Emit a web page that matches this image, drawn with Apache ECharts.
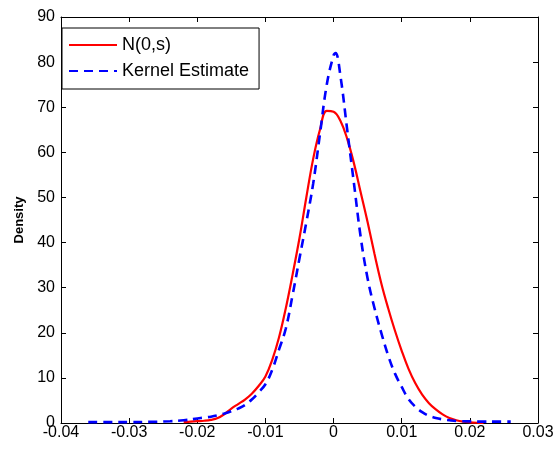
<!DOCTYPE html>
<html>
<head>
<meta charset="utf-8">
<script src="https://cdn.jsdelivr.net/npm/echarts@6/dist/echarts.min.js"></script>
<style>
html,body{margin:0;padding:0;background:#fff;}
#c{width:557px;height:452px;}
</style>
</head>
<body>
<div id="c"></div>
<script>
// Tick labels
const xTicks = [-0.04, -0.03, -0.02, -0.01, 0, 0.01, 0.02, 0.03];
const yTicks = [0, 10, 20, 30, 40, 50, 60, 70, 80, 90];

// N(0,s) curve (red)
const normX = [-0.022,-0.021,-0.020,-0.019,-0.018,-0.017,-0.016,-0.015,-0.014,-0.013,-0.012,-0.011,-0.010,-0.009,-0.008,-0.007,-0.006,-0.005,-0.004,-0.003,-0.002,-0.001,0.000,0.001,0.002,0.003,0.004,0.005,0.006,0.007,0.008,0.009,0.010,0.011,0.012,0.013,0.014,0.015,0.016,0.017,0.018,0.019,0.020,0.021,0.022];
const normY = [0.2,0.3,0.4,0.5,0.7,1.1,2.0,3.2,4.2,5.2,6.5,8.2,10.3,14,19,25.5,33,41,50,58.5,65,69.2,69,67,63,57.5,51,44.5,37.5,31,25.5,20.5,16,12,8.8,6.3,4.4,3.0,1.9,1.1,0.6,0.3,0.15,0.05,0];

// Kernel estimate (blue dashed)
const kdeX = [-0.036,-0.033,-0.030,-0.027,-0.024,-0.022,-0.020,-0.019,-0.018,-0.017,-0.016,-0.015,-0.014,-0.013,-0.012,-0.011,-0.010,-0.009,-0.008,-0.007,-0.006,-0.005,-0.004,-0.003,-0.002,-0.001,0.000,0.0003,0.001,0.002,0.003,0.004,0.005,0.006,0.007,0.008,0.009,0.010,0.011,0.012,0.013,0.014,0.015,0.016,0.017,0.018,0.020,0.022,0.024,0.026];
const kdeY = [0.2,0.2,0.2,0.25,0.4,0.6,1.0,1.2,1.4,1.7,2.1,2.6,3.2,4.0,5.2,6.8,8.6,11.8,16.3,21,28.5,36.5,44.5,53,64,75,81.5,82,77,65,53,41,32,25.5,20,15,11,8,5.3,3.6,2.4,1.6,1.1,0.8,0.6,0.45,0.35,0.3,0.3,0.3];

const normData = normX.map((x, i) => [x, normY[i]]);
const kdeData = kdeX.map((x, i) => [x, kdeY[i]]);

const fmt = v => {
  const r = Math.round(v * 100) / 100;
  return r === 0 ? '0' : String(r);
};
const font = 'Liberation Sans, Arial, sans-serif';
const axisLine = {show: true, onZero: false, lineStyle: {color: '#000', width: 1}};
const tick = {show: true, inside: true, length: 5, lineStyle: {color: '#000'}};

const chart = echarts.init(document.getElementById('c'), null, {renderer: 'canvas'});
chart.setOption({
  animation: false,
  backgroundColor: '#fff',
  grid: {left: 61, right: 19, top: 17, bottom: 29, containLabel: false},
  legend: {
    show: true,
    orient: 'vertical',
    left: 62,
    top: 28,
    backgroundColor: '#fff',
    borderColor: '#000',
    borderWidth: 1,
    borderRadius: 0,
    padding: [7, 10, 8, 6],
    itemGap: 6,
    itemWidth: 48,
    itemHeight: 14,
    itemStyle: {opacity: 0},
    textStyle: {fontFamily: font, fontSize: 18, color: '#000', lineHeight: 20},
    data: ['N(0,s)', 'Kernel Estimate']
  },
  xAxis: [{
    type: 'value', min: -0.04, max: 0.03, interval: 0.01,
    axisLine: axisLine, axisTick: tick,
    axisLabel: {formatter: fmt, fontFamily: font, fontSize: 16, color: '#000', margin: 2},
    splitLine: {show: false}
  }, {
    type: 'value', position: 'top', min: -0.04, max: 0.03, interval: 0.01,
    axisLine: axisLine, axisTick: tick,
    axisLabel: {show: false},
    splitLine: {show: false}
  }],
  yAxis: [{
    type: 'value', position: 'left', min: 0, max: 90, interval: 10,
    name: 'Density', nameLocation: 'middle', nameGap: 34,
    nameTextStyle: {fontFamily: font, fontSize: 13, fontWeight: 'bold', color: '#000'},
    axisLine: axisLine, axisTick: tick,
    axisLabel: {fontFamily: font, fontSize: 16, color: '#000', margin: 6},
    splitLine: {show: false}
  }, {
    type: 'value', position: 'right', min: 0, max: 90, interval: 10,
    axisLine: axisLine, axisTick: tick,
    axisLabel: {show: false},
    splitLine: {show: false}
  }],
  series: [{
    name: 'N(0,s)', type: 'line', data: normData, smooth: 0.4, showSymbol: false, symbol: 'none',
    lineStyle: {color: '#ff0000', width: 2.2}, itemStyle: {color: '#ff0000'}, z: 3
  }, {
    name: 'Kernel Estimate', type: 'line', data: kdeData, smooth: 0.4, showSymbol: false, symbol: 'none',
    lineStyle: {color: '#0000ff', width: 2.6, type: [9, 6]}, itemStyle: {color: '#0000ff'}, z: 4
  }]
});
</script>
</body>
</html>
